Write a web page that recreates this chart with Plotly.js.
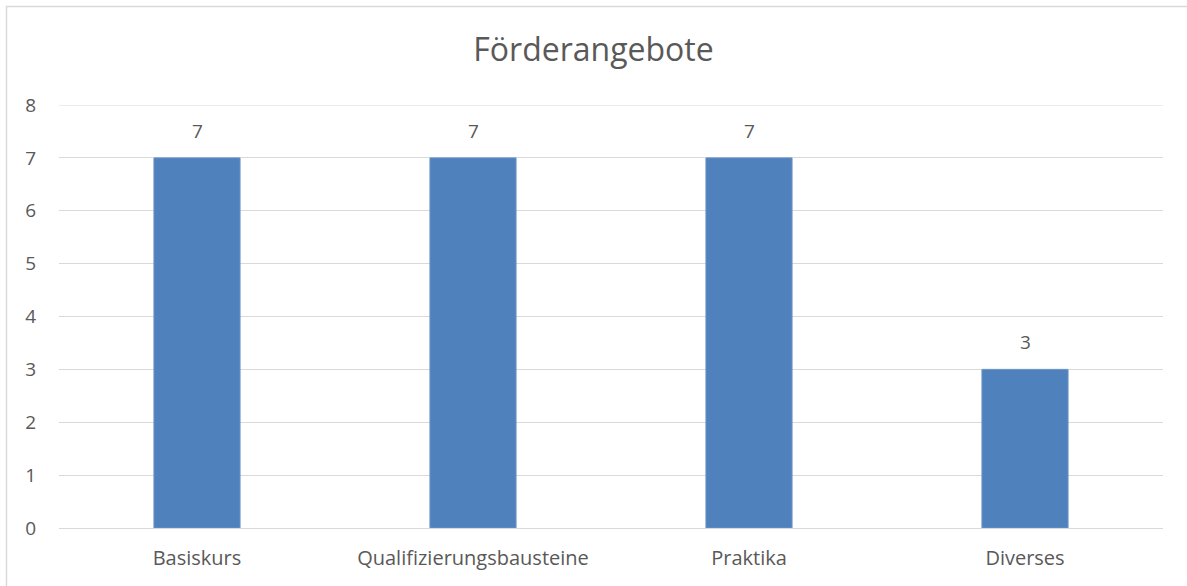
<!DOCTYPE html>
<html><head><meta charset="utf-8">
<script src="https://cdn.plot.ly/plotly-3.0.1.min.js"></script>
<style>html,body{margin:0;padding:0;background:#fff;}#chart{width:1187px;height:586px;}</style>
</head><body><div id="chart"></div>
<script>
const categories = ["Basiskurs", "Qualifizierungsbausteine", "Praktika", "Diverses"];
const values = [7, 7, 7, 3];
const yTicks = [0, 1, 2, 3, 4, 5, 6, 7, 8];

const font = "Open Sans, Noto Sans, sans-serif";
const textColor = "#595959";
const gridColor = "#D9D9D9";

const trace = {
  type: "bar",
  x: categories,
  y: values,
  marker: {color: "#4F81BD", line: {color: "#6A93C6", width: 1}},
  hoverinfo: "x+y"
};

const annotations = categories.map((c, i) => ({
  x: c, y: values[i], xref: "x", yref: "y",
  text: String(values[i]), showarrow: false,
  yanchor: "bottom", yshift: 12,
  font: {family: font, size: 19, color: textColor}
}));

const yMax = yTicks[yTicks.length - 1];

const layout = {
  width: 1187, height: 586,
  margin: {l: 59, r: 24, t: 105, b: 58},
  paper_bgcolor: "#fff", plot_bgcolor: "#fff",
  title: {text: "Förderangebote", x: 0.5, xanchor: "center", y: 1 - 50/586, yanchor: "middle", yref: "container",
          font: {family: font, size: 32, color: textColor}},
  bargap: 0.688,
  showlegend: false,
  xaxis: {
    type: "category",
    tickfont: {family: font, size: 20, color: textColor},
    showgrid: false, zeroline: false, showline: false, ticks: "",
    ticklabelstandoff: 16
  },
  yaxis: {
    range: [0, yMax], tickvals: yTicks,
    tickfont: {family: font, size: 19, color: textColor},
    showgrid: true, gridcolor: gridColor, gridwidth: 1,
    zeroline: true, zerolinecolor: gridColor, zerolinewidth: 1,
    showline: false, ticks: "", ticklabelstandoff: 22
  },
  annotations: annotations,
  shapes: [
    {
      type: "line", xref: "paper", yref: "y", layer: "below",
      x0: 0, x1: 1, y0: yMax, y1: yMax,
      line: {color: gridColor, width: 1}
    },
    {
      type: "rect", xref: "paper", yref: "paper", layer: "below",
      x0: (6.5 - 59) / 1104, x1: (1200 - 59) / 1104,
      y0: (528 - 600) / 423, y1: (528 - 6.5) / 423,
      line: {color: gridColor, width: 1.5}, fillcolor: "rgba(0,0,0,0)"
    }
  ]
};

Plotly.newPlot("chart", [trace], layout, {displayModeBar: false, staticPlot: true});
</script></body></html>
